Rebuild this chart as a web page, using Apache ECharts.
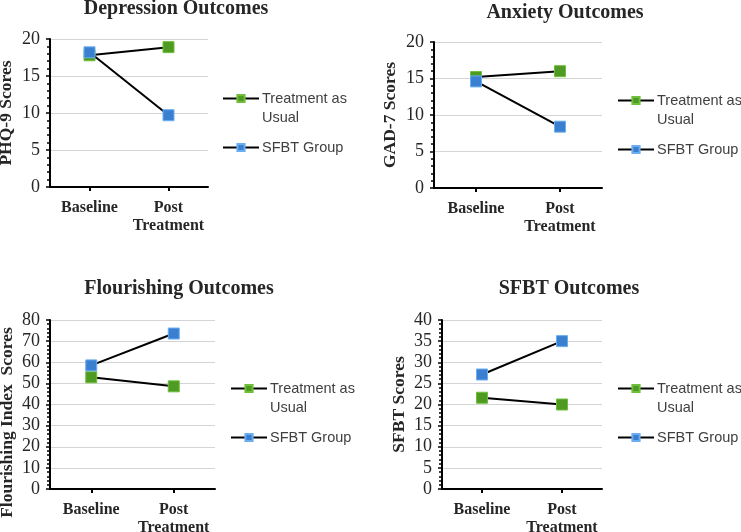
<!DOCTYPE html>
<html>
<head>
<meta charset="utf-8">
<script src="https://cdn.jsdelivr.net/npm/echarts@6/dist/echarts.min.js"></script>
<style>html,body{margin:0;padding:0;background:#fff;}#c{width:741px;height:532px;}</style>
</head>
<body>
<div id="c"></div>
<script>
const categories = ['Baseline', 'Post Treatment'];
const seriesNames = ['Treatment as Usual', 'SFBT Group'];
const panelTitles = ['Depression Outcomes', 'Anxiety Outcomes', 'Flourishing Outcomes', 'SFBT Outcomes'];
const yAxisNames = ['PHQ-9 Scores', 'GAD-7 Scores', 'Flourishing Index  Scores', 'SFBT Scores'];
const yMax = [20, 20, 80, 40];
const yInterval = [5, 5, 10, 5];

const depressionTAU = [17.8, 18.9];
const depressionSFBT = [18.2, 9.7];
const anxietyTAU = [15.2, 16.0];
const anxietySFBT = [14.6, 8.4];
const flourishingTAU = [52.9, 48.6];
const flourishingSFBT = [58.5, 73.6];
const sfbtTAU = [21.6, 20.0];
const sfbtSFBT = [27.1, 35.0];

const tauData = [depressionTAU, anxietyTAU, flourishingTAU, sfbtTAU];
const sfbtData = [depressionSFBT, anxietySFBT, flourishingSFBT, sfbtSFBT];

const GREEN = '#4e9a22';
const BLUE = '#3b80d0';
const SERIF = '"Liberation Serif", "Times New Roman", serif';
const SANS = '"Liberation Sans", Arial, sans-serif';

const grids = [
  {left: 50, top: 39, width: 158, height: 148},
  {left: 434, top: 42, width: 168, height: 146},
  {left: 50, top: 320, width: 165, height: 169},
  {left: 442, top: 320, width: 160, height: 169}
];
const titlePos = [
  {left: 176, top: -1},
  {left: 565, top: 3},
  {left: 179, top: 279},
  {left: 569, top: 279}
];
const legendPos = [
  {left: 222, top: 70},
  {left: 617, top: 72},
  {left: 230, top: 360},
  {left: 617, top: 360}
];
const nameGaps = [35, 35, 34, 34];
const namePad = [[0,0,0,0],[0,0,0,0],[0,36,0,0],[0,0,0,0]];

const option = {
  animation: false,
  backgroundColor: '#fff',
  title: panelTitles.map((t, i) => ({
    text: t, left: titlePos[i].left, top: titlePos[i].top, textAlign: 'center', padding: 0,
    textStyle: {fontFamily: SERIF, fontWeight: 'bold', fontSize: 20, color: '#262626'}
  })),
  legend: legendPos.map((p, i) => ({
    data: seriesNames, orient: 'vertical', left: p.left, top: p.top,
    itemWidth: 36, itemHeight: 9, itemGap: 11, padding: 0,
    formatter: n => n === 'Treatment as Usual' ? '\nTreatment as\nUsual' : n,
    textStyle: {fontFamily: SANS, fontSize: 14.5, color: '#404040', lineHeight: 19, padding: [0,0,0,-2]},
    selectedMode: false
  })),
  grid: grids.map(g => Object.assign({containLabel: false, outerBoundsMode: 'none'}, g)),
  xAxis: grids.map((g, i) => ({
    type: 'category', gridIndex: i, data: categories, boundaryGap: true,
    axisLine: {lineStyle: {color: '#000', width: 2}},
    axisTick: {show: true, alignWithLabel: true, length: 4, lineStyle: {color: '#000', width: 2}},
    axisLabel: {
      fontFamily: SERIF, fontWeight: 'bold', fontSize: 16, color: '#262626', margin: 12, lineHeight: 18,
      interval: 0, formatter: v => v.replace(' ', '\n')
    },
    splitLine: {show: false}
  })),
  yAxis: grids.map((g, i) => ({
    type: 'value', gridIndex: i, min: 0, max: yMax[i], interval: yInterval[i],
    name: yAxisNames[i], nameLocation: 'middle', nameGap: nameGaps[i], nameRotate: 90,
    nameMoveOverlap: false,
    nameTextStyle: {fontFamily: SERIF, fontWeight: 'bold', fontSize: 17.5, color: '#262626', padding: namePad[i]},
    axisLine: {show: true, lineStyle: {color: '#000', width: 2}},
    axisTick: {show: true, length: 4, lineStyle: {color: '#000', width: 1.5}},
    minorTick: {show: true, splitNumber: 5, length: 3, lineStyle: {color: '#000', width: 1.5}},
    axisLabel: {fontFamily: SERIF, fontSize: 18, color: '#262626', margin: 10},
    splitLine: {show: true, lineStyle: {color: '#d4d4d4', width: 1}}
  })),
  series: []
};

for (let i = 0; i < 4; i++) {
  option.series.push({
    name: seriesNames[0], type: 'line', xAxisIndex: i, yAxisIndex: i, data: tauData[i],
    symbol: 'rect', symbolSize: 11, lineStyle: {color: '#000', width: 2},
    itemStyle: {color: GREEN, borderColor: '#6fbf3a', borderWidth: 1}, z: 3
  });
  option.series.push({
    name: seriesNames[1], type: 'line', xAxisIndex: i, yAxisIndex: i, data: sfbtData[i],
    symbol: 'rect', symbolSize: 11, lineStyle: {color: '#000', width: 2},
    itemStyle: {color: BLUE, borderColor: '#6aaef0', borderWidth: 1}, z: 4
  });
}

const chart = echarts.init(document.getElementById('c'), null, {renderer: 'canvas'});
chart.setOption(option);
</script>
</body>
</html>
